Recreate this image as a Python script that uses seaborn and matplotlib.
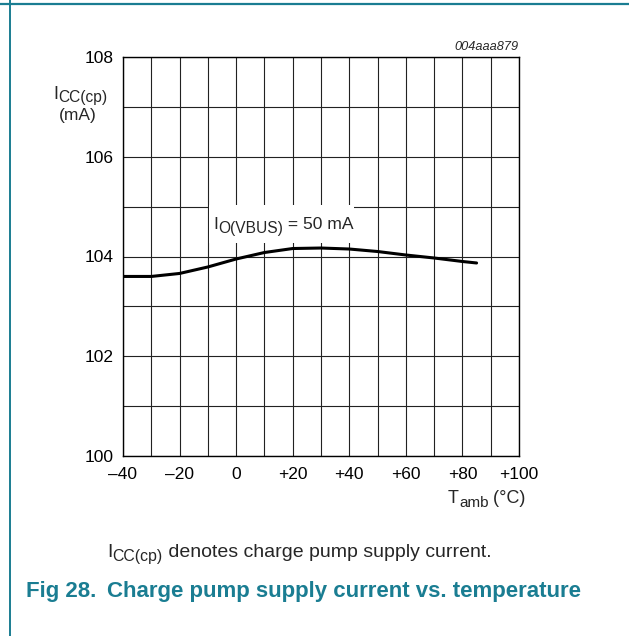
import numpy as np
import seaborn as sns
import matplotlib.pyplot as plt
from matplotlib.lines import Line2D
from matplotlib.patches import Rectangle

# curve
temps = [-40, -30, -20, -10, 0, 10, 20, 30, 40, 50, 60, 70, 80, 85]
icc_cp = [103.60, 103.60, 103.66, 103.79, 103.95, 104.08, 104.16, 104.17,
          104.15, 104.10, 104.03, 103.97, 103.90, 103.87]

x_major = [-40, -20, 0, 20, 40, 60, 80, 100]
x_labels = ["\u201340", "\u201320", "0", "+20", "+40", "+60", "+80", "+100"]
y_major = [100, 102, 104, 106, 108]

teal = "#1a7d92"
W, H = 629, 636

sns.set_style("white")
plt.rcParams["font.family"] = ["Liberation Sans", "DejaVu Sans"]

fig = plt.figure(figsize=(W / 100, H / 100), dpi=100)
ax = fig.add_axes([123 / W, 1 - 456 / H, 396 / W, 399 / H])
renderer = fig.canvas.get_renderer()


def put_text(x_px, y_px, parts, **kw):
    """Write pieces (text, size, drop_px) left to right from a pixel baseline,
    so the subscripts can be bigger than mathtext makes them."""
    x = x_px
    for s, size, drop in parts:
        t = fig.text(x / W, 1 - (y_px + drop) / H, s, fontsize=size,
                     ha="left", va="baseline", zorder=5, **kw)
        x += t.get_window_extent(renderer).width
    return x


sns.lineplot(x=temps, y=icc_cp, ax=ax, color="black", linewidth=2.2, zorder=3)

ax.set_xlim(-40, 100)
ax.set_ylim(100, 108)
ax.set_xticks(x_major)
ax.set_xticklabels(x_labels)
ax.set_xticks(np.arange(-40, 101, 10), minor=True)
ax.set_yticks(y_major)
ax.set_yticks(np.arange(100, 109, 1), minor=True)
ax.grid(True, which="both", color="#222222", linewidth=0.8)
ax.tick_params(which="both", length=0, labelsize=12.5, colors="black")
ax.tick_params(axis="x", pad=8)
ax.tick_params(axis="y", pad=7)
for s in ax.spines.values():
    s.set_color("black")
    s.set_linewidth(1.0)
ax.set_xlabel("")
ax.set_ylabel("")

# white patch behind the curve label
ax.add_patch(Rectangle((-9.6, 104.28), 51.3, 0.76, facecolor="white",
                       edgecolor="none", zorder=2))
put_text(213, 229, [("I", 12.6, 0), ("O(VBUS)", 11.2, 4), (" = 50 mA", 12.6, 0)])

# axis titles
put_text(53, 99, [("I", 13, 0), ("CC(cp)", 11.2, 3)])
fig.text(59 / W, 1 - 120 / H, "(mA)", fontsize=12.5, ha="left", va="baseline")
put_text(448, 503, [("T", 13, 0), ("amb", 11, 4), (" (°C)", 13, 0)])
fig.text(519 / W, 1 - 47 / H, "004aaa879", fontsize=9.2, style="italic",
         ha="right", va="center")

# notes under the chart
put_text(107, 557, [("I", 14, 0), ("CC(cp)", 11.4, 4),
                    (" denotes charge pump supply current.", 14, 0)])
fig.text(26 / W, 1 - 592 / H, "Fig 28.", fontsize=16, fontweight="bold",
         color=teal, ha="left", va="center")
fig.text(107 / W, 1 - 592 / H, "Charge pump supply current vs. temperature",
         fontsize=16, fontweight="bold", color=teal, ha="left", va="center")

# page frame lines
fig.add_artist(Line2D([0, 1], [1 - 4 / H, 1 - 4 / H], color=teal,
                      linewidth=1.6, transform=fig.transFigure))
fig.add_artist(Line2D([10 / W, 10 / W], [0, 1], color=teal,
                      linewidth=1.4, transform=fig.transFigure))

fig.savefig("out.png", dpi=100)
